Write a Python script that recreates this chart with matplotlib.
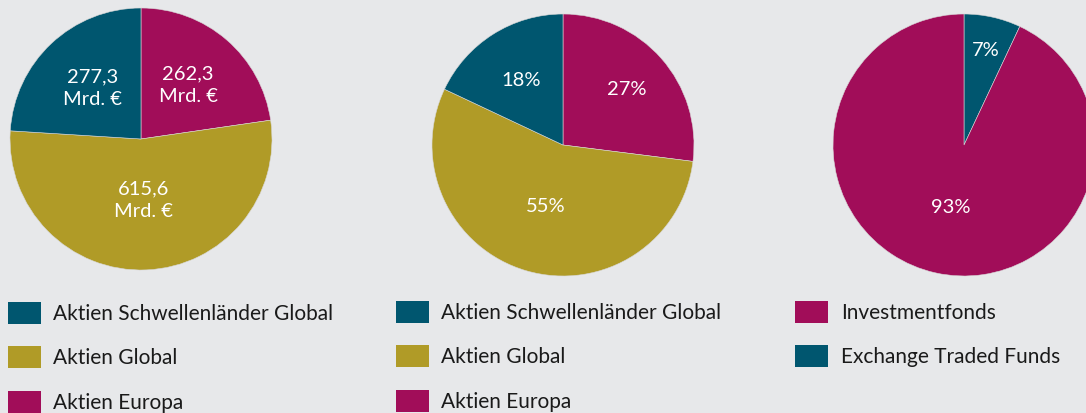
import numpy as np
import matplotlib
matplotlib.use('Agg')
import matplotlib.pyplot as plt
from matplotlib.patches import Rectangle

W, H = 1086, 414
BG = '#e7e8ea'
TEAL = '#00566f'
OLIVE = '#b09b27'
MAGENTA = '#a10d59'

plt.rcParams['font.family'] = ['Lato', 'DejaVu Sans']

# pie 1: volume in Mrd. EUR (clockwise from top)
vol_labels = ['Aktien Europa', 'Aktien Global', 'Aktien Schwellenländer Global']
vol_values = [262.3, 615.6, 277.3]
vol_text = ['262,3\nMrd. €', '615,6\nMrd. €', '277,3\nMrd. €']
vol_colors = [MAGENTA, OLIVE, TEAL]

# pie 2: shares in percent
share_values = [27, 55, 18]
share_text = ['27%', '55%', '18%']

# pie 3: fund type
type_labels = ['Exchange Traded Funds', 'Investmentfonds']
type_values = [7, 93]
type_text = ['7%', '93%']
type_colors = [TEAL, MAGENTA]

legend_12 = ['Aktien Schwellenländer Global', 'Aktien Global', 'Aktien Europa']
legend_12_colors = [TEAL, OLIVE, MAGENTA]
legend_3 = ['Investmentfonds', 'Exchange Traded Funds']
legend_3_colors = [MAGENTA, TEAL]

fig = plt.figure(figsize=(W / 100, H / 100), dpi=100, facecolor=BG)


def draw_pie(cx, cy, r, values, colors, texts, dists):
    ax = fig.add_axes([(cx - r) / W, 1 - (cy + r) / H, 2 * r / W, 2 * r / H])
    wedges, _ = ax.pie(values, colors=colors, startangle=90, counterclock=False,
                       radius=1, wedgeprops=dict(linewidth=0.4, edgecolor='#d8d8d8'))
    for w, t, d in zip(wedges, texts, dists):
        ang = np.deg2rad((w.theta1 + w.theta2) / 2)
        ax.text(d * np.cos(ang), d * np.sin(ang), t, ha='center', va='center',
                color='white', fontsize=14.5, linespacing=1.4)
    ax.set_xlim(-1, 1)
    ax.set_ylim(-1, 1)
    ax.set_aspect('equal')
    ax.axis('off')


draw_pie(141, 140, 131, vol_values, vol_colors, vol_text, [0.55, 0.46, 0.54])
draw_pie(563, 146, 131, share_values, vol_colors, share_text, [0.65, 0.48, 0.59])
draw_pie(964, 146, 131, type_values, type_colors, type_text, [0.75, 0.48])


def draw_legend(x_box, x_text, y_rows, labels, colors):
    for y, lab, c in zip(y_rows, labels, colors):
        fig.add_artist(Rectangle((x_box / W, 1 - (y + 11) / H), 33 / W, 22 / H,
                                 transform=fig.transFigure, facecolor=c, edgecolor='none'))
        fig.text(x_text / W, 1 - y / H, lab, ha='left', va='center',
                 fontsize=15, color='#1a1a1a')


draw_legend(8, 53, [314, 358, 403], legend_12, legend_12_colors)
draw_legend(396, 441, [313, 357, 402], legend_12, legend_12_colors)
draw_legend(795, 841, [313, 357], legend_3, legend_3_colors)

fig.savefig('out.png', dpi=100, facecolor=BG)
